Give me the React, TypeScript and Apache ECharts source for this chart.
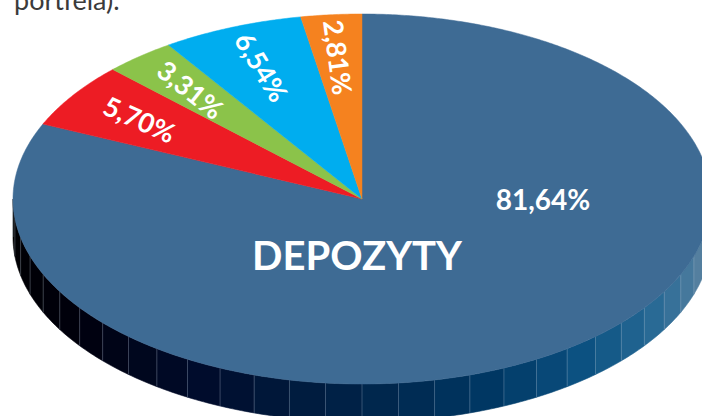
import React, { useEffect, useRef } from "react";
import * as echarts from "echarts";

// ---- data ----
const names = ["DEPOZYTY", "Pozycja 2", "Pozycja 3", "Pozycja 4", "Pozycja 5"];
const values = [81.64, 5.7, 3.31, 6.54, 2.81];
const headerText = "portfela).";

// ---- style ----
const palette = ["#3e6b94", "#ed1c24", "#8bc34a", "#00adef", "#f5821f"];
const sideStops: [number, string][] = [
  [0.0, "#000000"],
  [0.2, "#00000c"],
  [0.35, "#000c2c"],
  [0.5, "#002449"],
  [0.62, "#003864"],
  [0.72, "#0c5282"],
  [0.82, "#2a6b96"],
  [0.92, "#55809f"],
  [1.0, "#7590aa"],
];
const CX = 362;
const CY = 199;
const RX = 349;
const RY = 185;
const DEPTH = 38;
const FONT = "Lato, 'Open Sans', sans-serif";

const total = values.reduce((a, b) => a + b, 0);
const cum: number[] = [0];
values.forEach((v, i) => cum.push(cum[i] + v));
const angStart = (i: number) => 90 - (360 * cum[i]) / total;
const angEnd = (i: number) => 90 - (360 * cum[i + 1]) / total;
const fmt = (v: number) => v.toFixed(2).replace(".", ",") + "%";

const rad = (d: number) => (d * Math.PI) / 180;
const pt = (deg: number, dy = 0): number[] => [
  CX + RX * Math.cos(rad(deg)),
  CY - RY * Math.sin(rad(deg)) + dy,
];

function hex2rgb(h: string) {
  const n = parseInt(h.slice(1), 16);
  return [(n >> 16) & 255, (n >> 8) & 255, n & 255];
}
function sideColor(t: number, i: number) {
  if (i !== 0) {
    const c = hex2rgb(palette[i]);
    const f = 0.2 + 0.6 * t;
    return `rgb(${c.map((x) => Math.round(x * f)).join(",")})`;
  }
  for (let k = 0; k < sideStops.length - 1; k++) {
    const [t0, c0] = sideStops[k];
    const [t1, c1] = sideStops[k + 1];
    if (t <= t1) {
      const u = (t - t0) / (t1 - t0);
      const a = hex2rgb(c0);
      const b = hex2rgb(c1);
      return `rgb(${a.map((x, j) => Math.round(x + (b[j] - x) * u)).join(",")})`;
    }
  }
  return sideStops[sideStops.length - 1][1];
}

function renderSide(params: any) {
  const i = params.dataIndex;
  const a0 = angStart(i);
  const a1 = angEnd(i);
  const children: any[] = [];
  for (const k of [-360, 0, 360]) {
    const lo = Math.max(a1 + k, -180);
    const hi = Math.min(a0 + k, 0);
    if (hi <= lo) continue;
    const step = 6;
    let s = lo;
    while (s < hi - 1e-6) {
      const e = Math.min(hi, Math.floor((s + 180) / step + 1) * step - 180);
      const pts: number[][] = [];
      for (let d = s; d <= e + 1e-6; d += Math.max((e - s) / 8, 0.1)) pts.push(pt(d));
      pts.push(pt(e));
      for (let d = e; d >= s - 1e-6; d -= Math.max((e - s) / 8, 0.1)) pts.push(pt(d, DEPTH));
      pts.push(pt(s, DEPTH));
      const t = ((s + e) / 2 + 180) / 180;
      const col = sideColor(t, i);
      children.push({
        type: "polygon",
        shape: { points: pts },
        style: { fill: col, stroke: col, lineWidth: 0.6 },
      });
      s = e;
    }
    for (let d = Math.ceil((lo + 180) / step) * step - 180; d <= hi; d += step) {
      const p0 = pt(d);
      const p1 = pt(d, DEPTH);
      children.push({
        type: "line",
        shape: { x1: p0[0], y1: p0[1], x2: p1[0], y2: p1[1] },
        style: { stroke: "rgba(170,185,205,0.45)", lineWidth: 0.7 },
      });
    }
  }
  return { type: "group", children };
}

function renderTop(params: any, api: any) {
  const i = params.dataIndex;
  const a0 = angStart(i);
  const a1 = angEnd(i);
  const pts: number[][] = [[CX, CY]];
  const n = Math.max(2, Math.ceil((a0 - a1) / 0.5));
  for (let k = 0; k <= n; k++) pts.push(pt(a0 - ((a0 - a1) * k) / n));
  const children: any[] = [
    {
      type: "polygon",
      shape: { points: pts },
      style: { fill: palette[i], stroke: palette[i], lineWidth: 0.5 },
    },
  ];
  if (i !== 0) {
    const mid = (a0 + a1) / 2;
    const r = 0.77;
    const x = CX + RX * r * Math.cos(rad(mid));
    const y = CY - RY * r * Math.sin(rad(mid));
    const phi = Math.atan2((CY - y) * 1.25, CX - x);
    children.push({
      type: "text",
      x,
      y,
      rotation: -phi,
      style: {
        text: fmt(api.value(0)),
        fill: "#ffffff",
        fontFamily: FONT,
        fontWeight: "bold",
        fontSize: 27,
        align: "center",
        verticalAlign: "middle",
      },
    });
  }
  return { type: "group", children };
}

export default function App() {
  const ref = useRef<HTMLDivElement>(null);
  useEffect(() => {
    document.body.style.margin = "0";
    const chart = echarts.init(ref.current!, undefined, { renderer: "svg" });
    const data = values.map((v, i) => ({ name: names[i], value: [v] }));
    chart.setOption({
      animation: false,
      backgroundColor: "#ffffff",
      series: [
        {
          type: "custom",
          coordinateSystem: "none",
          renderItem: renderSide,
          data,
          z: 1,
          silent: true,
        },
        {
          type: "custom",
          coordinateSystem: "none",
          renderItem: renderTop,
          data,
          z: 2,
          silent: true,
        },
      ],
      graphic: [
        {
          type: "text",
          left: 14,
          top: -14,
          z: 10,
          style: {
            text: headerText,
            fill: "#3b3b3b",
            fontFamily: FONT,
            fontSize: 27,
          },
        },
        {
          type: "text",
          x: 543,
          y: 199,
          z: 10,
          style: {
            text: fmt(values[0]),
            fill: "#ffffff",
            fontFamily: FONT,
            fontWeight: "bold",
            fontSize: 28,
            align: "center",
            verticalAlign: "middle",
          },
        },
        {
          type: "text",
          x: 357,
          y: 255,
          z: 10,
          style: {
            text: names[0],
            fill: "#ffffff",
            fontFamily: FONT,
            fontWeight: "bold",
            fontSize: 40,
            align: "center",
            verticalAlign: "middle",
          },
        },
      ],
    });
    return () => chart.dispose();
  }, []);
  return <div ref={ref} style={{ width: 702, height: 416 }} />;
}
